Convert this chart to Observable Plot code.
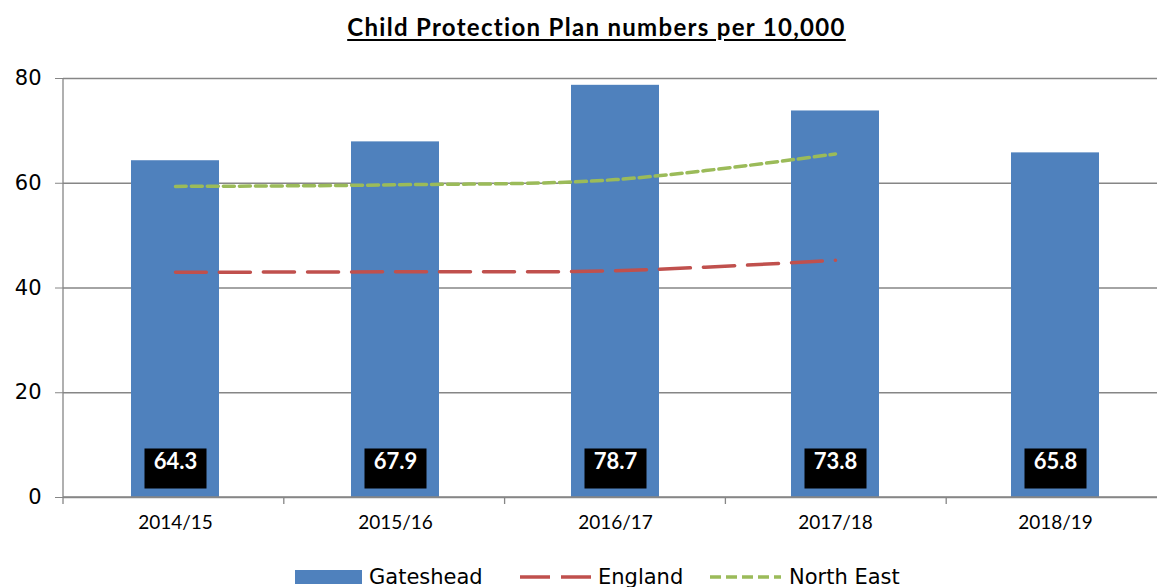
<!DOCTYPE html>
<html>
<head>
<meta charset="utf-8">
<script src="https://cdn.jsdelivr.net/npm/d3@7"></script>
<script src="https://cdn.jsdelivr.net/npm/@observablehq/plot@0.6"></script>
<style>
  html, body { margin: 0; padding: 0; background: #fff; width: 1157px; height: 587px; overflow: hidden; }
  #title { position: absolute; left: 0; top: 12px; width: 1157px; text-align: center; box-sizing: border-box; padding-left: 36px;
           font: bold 24px Lato, sans-serif; text-decoration: underline; text-underline-offset: 3px; color: #000; }
  #title span { white-space: nowrap; }
  #chart { position: absolute; left: 0; top: 60px; }
  #legend { position: absolute; left: 0; top: 565px; width: 1157px; height: 24px;
            font: 21px "DejaVu Sans", sans-serif; color: #000; line-height: 24px; white-space: nowrap; }
  #legend .sw { position: absolute; top: 5px; line-height: 0; }
  #legend .sw svg { display: block; }
  #legend .lab { position: absolute; top: 0; }
</style>
</head>
<body>
<div id="title"><span id="titleText"></span></div>
<div id="chart"></div>
<div id="legend"></div>
<script>
const chartTitle = "Child Protection Plan numbers per 10,000";
const categories = ["2014/15", "2015/16", "2016/17", "2017/18", "2018/19"];
const gateshead = [64.3, 67.9, 78.7, 73.8, 65.8];
const england = [43.0, 43.1, 43.3, 45.3];
const northEast = [59.4, 59.7, 60.7, 65.6];
const yTicks = [0, 20, 40, 60, 80];
const seriesNames = ["Gateshead", "England", "North East"];
const seriesColors = ["#4F81BD", "#C0504D", "#9BBB59"];

const bars = categories.map((c, i) => ({cat: c, value: gateshead[i]}));
const engRows = england.map((v, i) => ({cat: categories[i], value: v}));
const neRows = northEast.map((v, i) => ({cat: categories[i], value: v}));

// Title, stretched to the reference width
const tspan = document.getElementById("titleText");
tspan.textContent = chartTitle;
{
  const w = tspan.getBoundingClientRect().width;
  const target = 499;
  tspan.style.letterSpacing = ((target - w) / chartTitle.length) + "px";
}

const boxSymbol = {
  draw(context) { context.rect(-31, -20, 62, 40); }
};

function frameLines(index, scales, values, dims) {
  const left = dims.marginLeft, right = dims.width - dims.marginRight;
  const top = dims.marginTop, bottom = dims.height - dims.marginBottom;
  const step = (right - left) / categories.length;
  const g = d3.create("svg:g").attr("stroke", "#868686").attr("stroke-width", 1.3);
  g.append("line").attr("x1", left).attr("x2", left).attr("y1", top).attr("y2", bottom);
  g.append("line").attr("x1", left).attr("x2", right).attr("y1", bottom).attr("y2", bottom);
  for (let i = 0; i <= categories.length; i++) {
    g.append("line").attr("x1", left + i * step).attr("x2", left + i * step)
      .attr("y1", bottom).attr("y2", bottom + 7);
  }
  return g.node();
}

const chart = Plot.plot({
  width: 1157,
  height: 490,
  marginTop: 18,
  marginBottom: 53,
  marginLeft: 63,
  marginRight: -10,
  style: {fontFamily: "Lato, sans-serif", background: "white", color: "black"},
  x: {domain: categories, paddingInner: 0.6, paddingOuter: 0.3, axis: null},
  y: {domain: [0, 80], axis: null},
  marks: [
    Plot.ruleY(yTicks, {stroke: "#868686", strokeWidth: 1.3}),
    Plot.barY(bars, {x: "cat", y: "value", fill: seriesColors[0]}),
    Plot.line(engRows, {x: "cat", y: "value", stroke: seriesColors[1], strokeWidth: 3.5,
      strokeDasharray: "31,13", curve: "catmull-rom"}),
    Plot.line(neRows, {x: "cat", y: "value", stroke: seriesColors[2], strokeWidth: 3.5,
      strokeDasharray: "11,5", curve: "catmull-rom"}),
    Plot.dot(bars, {x: "cat", frameAnchor: "bottom", dy: -29, symbol: boxSymbol, fill: "black", stroke: null}),
    Plot.text(bars, {x: "cat", text: d => d.value.toFixed(1), frameAnchor: "bottom", dy: -29,
      fill: "white", fontWeight: "bold", fontSize: 22, fontFamily: "Lato, sans-serif"}),
    Plot.axisY(yTicks, {tickSize: 8, tickPadding: 14, stroke: "#868686", fontSize: 21,
      fontFamily: "DejaVu Sans, sans-serif", label: null}),
    Plot.axisX({tickSize: 0, tickPadding: 18, fontSize: 19, fontFamily: "Lato, sans-serif", label: null}),
    frameLines
  ]
});
document.getElementById("chart").appendChild(chart);

// Legend
const legend = document.getElementById("legend");
const swatches = [
  `<svg width="67" height="14"><rect x="0" y="0" width="67" height="14" fill="${seriesColors[0]}"/></svg>`,
  `<svg width="71" height="14"><line x1="0" x2="71" y1="7" y2="7" stroke="${seriesColors[1]}" stroke-width="3.5" stroke-dasharray="30,11"/></svg>`,
  `<svg width="71" height="14"><line x1="0" x2="71" y1="7" y2="7" stroke="${seriesColors[2]}" stroke-width="3.5" stroke-dasharray="11,5"/></svg>`
];
const swatchLeft = [295, 520, 710];
const labelLeft = [369, 598, 789];
seriesNames.forEach((name, i) => {
  const sw = document.createElement("div");
  sw.className = "sw";
  sw.style.left = swatchLeft[i] + "px";
  sw.innerHTML = swatches[i];
  legend.appendChild(sw);
  const lab = document.createElement("span");
  lab.className = "lab";
  lab.style.left = labelLeft[i] + "px";
  lab.textContent = name;
  legend.appendChild(lab);
});
</script>
</body>
</html>
